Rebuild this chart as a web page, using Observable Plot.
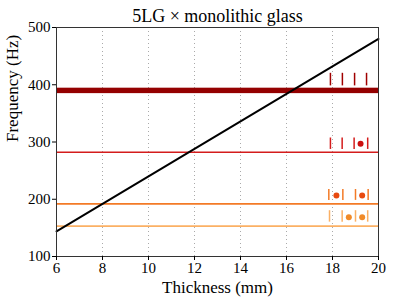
<!DOCTYPE html>
<html><head><meta charset="utf-8">
<script src="https://cdn.jsdelivr.net/npm/d3@7"></script>
<script src="https://cdn.jsdelivr.net/npm/@observablehq/plot@0.6"></script>
<style>body{margin:0;background:#fff;} svg{font-family:"Liberation Serif",serif;}</style>
</head><body><div id="chart"></div>
<script>
const title = "5LG \u00d7 monolithic glass";
const xLabel = "Thickness (mm)";
const yLabel = "Frequency (Hz)";
const xTicks = [6, 8, 10, 12, 14, 16, 18, 20];
const yTicks = [100, 200, 300, 400, 500];
const lineThickness = [6, 20];
const lineFreq = [144, 480];
const modeFreq = [282, 192, 153];
const modeColors = ["#d41c1c", "#f37a26", "#fbb064"];
const bandLow = 384.5, bandHigh = 394;
const bandColor = "#940000";
// short vertical markers at the right, per row
const markRow = [0, 0, 0, 0, 1, 1, 1, 1, 2, 2, 2, 2, 3, 3, 3, 3];
const markX = [17.91, 18.43, 18.96, 19.48, 17.91, 18.42, 18.94, 19.53, 17.84, 18.45, 19.0, 19.55, 17.87, 18.42, 19.0, 19.53];
const rowLow = [398, 287, 198, 160];
const rowHigh = [420, 307, 217, 180];
const rowColors = ["#a00000", "#d41c1c", "#f37a26", "#fbb064"];
const dotRow = [1, 2, 2, 3, 3];
const dotX = [19.22, 18.17, 19.29, 18.71, 19.29];
const dotY = [297, 206.5, 206.5, 168.6, 168.6];
const dotColors = ["#cc1010", "#e84a10", "#e84a10", "#f08a28", "#f08a28"];

const marks = markX.map((x, i) => ({x, y1: rowLow[markRow[i]], y2: rowHigh[markRow[i]], c: rowColors[markRow[i]]}));
const dots = dotX.map((x, i) => ({x, y: dotY[i], c: dotColors[i]}));
const modes = modeFreq.map((f, i) => ({f, c: modeColors[i]}));
const diag = lineThickness.map((t, i) => ({t, f: lineFreq[i]}));

const chart = Plot.plot({
  width: 395, height: 304,
  marginLeft: 56, marginRight: 17, marginTop: 27, marginBottom: 48,
  style: {fontFamily: "Liberation Serif, serif", fontSize: "15px", color: "#000", background: "#fff"},
  x: {domain: [6, 20], ticks: xTicks},
  y: {domain: [100, 500], ticks: yTicks},
  marks: [
    Plot.gridX(xTicks.filter(t => t > 6 && t < 20), {stroke: "#aaa", strokeOpacity: 1, strokeDasharray: "1,3"}),
    Plot.rect([{y1: bandLow, y2: bandHigh}], {x1: 6, x2: 20, y1: "y1", y2: "y2", fill: bandColor}),
    Plot.ruleY(modes, {y: "f", stroke: "c", strokeWidth: 1.6}),
    Plot.line(diag, {x: "t", y: "f", stroke: "#000", strokeWidth: 2}),
    Plot.ruleX(marks, {x: "x", y1: "y1", y2: "y2", stroke: "c", strokeWidth: 1.5}),
    Plot.dot(dots, {x: "x", y: "y", fill: "c", r: 3}),
    Plot.frame({stroke: "#333"}),
    Plot.axisX({ticks: xTicks, tickSize: 4, tickPadding: 2, fontSize: 15, label: null}),
    Plot.axisY({ticks: yTicks, tickSize: 4, tickPadding: 2, fontSize: 15, label: null}),
    Plot.text([xLabel], {frameAnchor: "bottom", dy: 36, fontSize: 17}),
    Plot.text([yLabel], {frameAnchor: "left", rotate: -90, dx: -44, fontSize: 17}),
    Plot.text([title], {frameAnchor: "top", dy: -18, fontSize: 18})
  ]
});
document.getElementById("chart").append(chart);
</script></body></html>
